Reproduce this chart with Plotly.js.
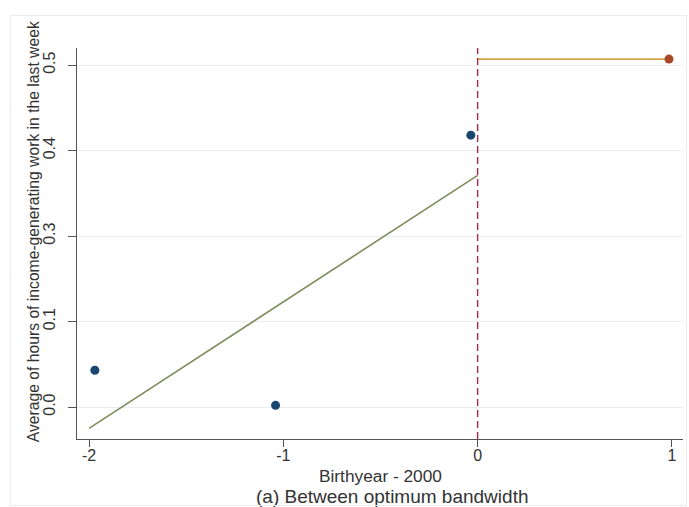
<!DOCTYPE html>
<html>
<head>
<meta charset="utf-8">
<script src="https://cdn.plot.ly/plotly-3.0.1.min.js"></script>
<style>
  html, body { margin: 0; padding: 0; background: #ffffff; }
  #wrap { position: relative; width: 689px; height: 507px; }
  #frame { position: absolute; left: 10px; top: 15px; width: 675px; height: 489px; border: 1px solid #ececec; pointer-events: none; }
  #chart { position: absolute; left: 0; top: 0; width: 689px; height: 507px; }
</style>
</head>
<body>
<div id="wrap">
  <div id="chart"></div>
  <div id="frame"></div>
</div>
<script>
// Binned means (left of cutoff)
const binX = [-1.97, -1.04, -0.035];
const binY = [0.143, 0.102, 0.418];
// Binned mean (right of cutoff)
const rightX = [0.985];
const rightY = [0.507];
// Linear fit left of cutoff
const fitLeftX = [-2, 0];
const fitLeftY = [0.075, 0.371];
// Fit right of cutoff
const fitRightX = [0, 0.985];
const fitRightY = [0.507, 0.507];
// Cutoff
const cutoffX = 0;
// Tick labels as printed
const yTickVals = [0.1, 0.2, 0.3, 0.4, 0.5];
const yTickText = ["0.0", "0.1", "0.3", "0.4", "0.5"];
const xTickVals = [-2, -1, 0, 1];
const xTickText = ["-2", "-1", "0", "1"];
// Texts
const xTitle = 'Birthyear - 2000';
const caption = '(a) Between optimum bandwidth';
const yTitle = 'Average of hours of income-generating work in the last week';

const yRange = [0.0626, 0.520];

const traces = [
  { x: fitLeftX, y: fitLeftY, mode: 'lines', line: { color: '#7d8c5c', width: 1.6 }, hoverinfo: 'skip' },
  { x: fitRightX, y: fitRightY, mode: 'lines', line: { color: '#d2a548', width: 1.8 }, hoverinfo: 'skip' },
  { x: [cutoffX, cutoffX], y: yRange, mode: 'lines', line: { color: '#a82a4a', width: 1.4, dash: '7px,4px' }, hoverinfo: 'skip' },
  { x: binX, y: binY, mode: 'markers', marker: { color: '#1a476f', size: 9 } },
  { x: rightX, y: rightY, mode: 'markers', marker: { color: '#a9472a', size: 9 } }
];

const txt = '#333333';
const layout = {
  width: 689, height: 507,
  margin: { l: 77, r: 6, t: 48, b: 68 },
  paper_bgcolor: 'rgba(0,0,0,0)',
  plot_bgcolor: '#ffffff',
  showlegend: false,
  font: { family: 'Liberation Sans, Arial, sans-serif', size: 15.5, color: txt },
  xaxis: {
    range: [-2.062, 1.057],
    tickvals: xTickVals, ticktext: xTickText,
    showgrid: false, zeroline: false,
    showline: true, linecolor: '#555555', linewidth: 1.2,
    ticks: 'outside', ticklen: 7, tickcolor: '#555555',
    ticklabelstandoff: -5,
    tickfont: { size: 16, color: txt },
    automargin: false
  },
  yaxis: {
    range: yRange,
    tickvals: yTickVals, ticktext: yTickText,
    tickangle: -90,
    showgrid: true, gridcolor: '#ececec', gridwidth: 1,
    zeroline: false,
    showline: true, linecolor: '#555555', linewidth: 1.2,
    ticks: 'outside', ticklen: 8, tickcolor: '#555555',
    ticklabelstandoff: 6,
    tickfont: { size: 16, color: txt },
    automargin: false
  },
  annotations: [
    { text: xTitle, xref: 'paper', yref: 'paper', x: 0.5, y: -0.0946, xanchor: 'center', yanchor: 'middle', showarrow: false, font: { size: 17.3, color: txt } },
    { text: caption, xref: 'paper', yref: 'paper', x: 0.52, y: -0.1483, xanchor: 'center', yanchor: 'middle', showarrow: false, font: { size: 19, color: txt } },
    { text: yTitle, xref: 'paper', yref: 'paper', x: -0.0726, y: 0.529, xanchor: 'center', yanchor: 'middle', textangle: -90, showarrow: false, font: { size: 15.7, color: txt } }
  ]
};

Plotly.newPlot('chart', traces, layout, { displayModeBar: false, staticPlot: true });
</script>
</body>
</html>
